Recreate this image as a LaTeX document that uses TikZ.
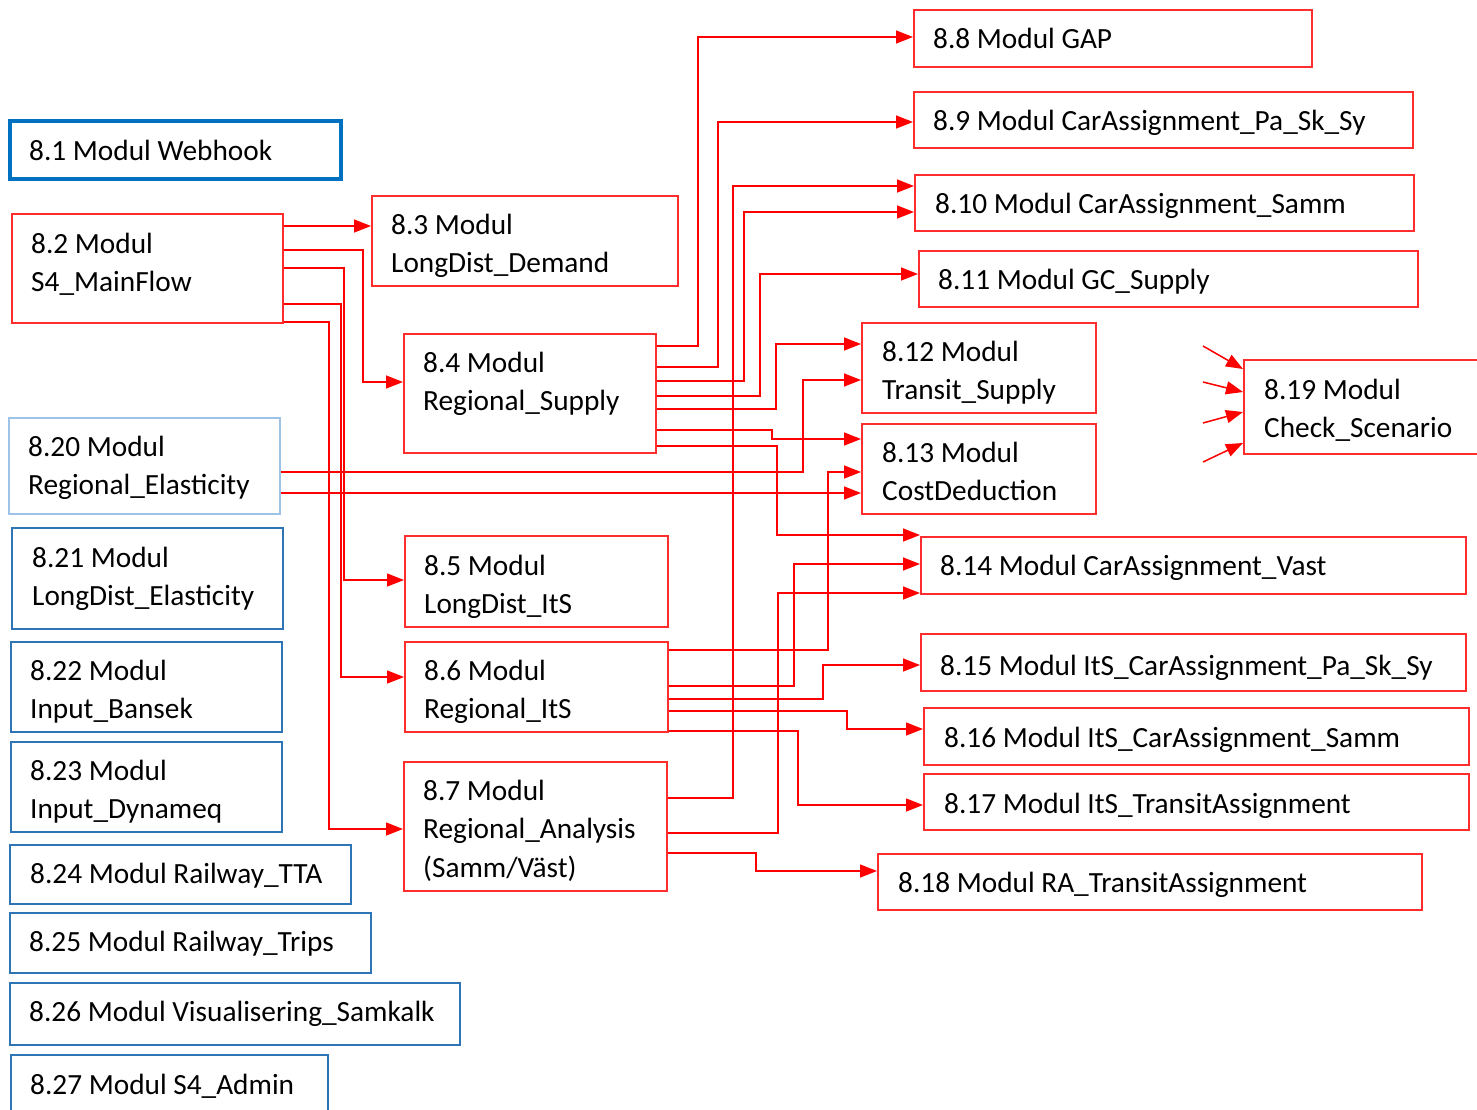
\documentclass[tikz,border=0pt]{standalone}
\usepackage{fontspec}
\setmainfont{Carlito}
\usetikzlibrary{arrows.meta}
\definecolor{lred}{RGB}{255,0,0}
\definecolor{bred}{RGB}{255,45,45}
\definecolor{dblue}{RGB}{0,112,192}
\definecolor{mblue}{RGB}{46,117,182}
\definecolor{lblue}{RGB}{157,195,230}
\begin{document}
\begin{tikzpicture}[x=1pt,y=-1pt,
 rbox/.style={draw=bred, line width=1.5pt, inner sep=0pt, anchor=north west},
 bbox/.style={draw=mblue, line width=1.5pt, inner sep=0pt, anchor=north west},
 txt/.style={anchor=base west, align=left, inner sep=0pt, font=\fontsize{29.3}{38.5}\selectfont},
 arr/.style={draw=lred, line width=1.5pt, -{Triangle[length=17pt,width=13pt]}}]
\useasboundingbox (0,0) rectangle (1477,1109);
% boxes
\node[bbox, draw=dblue, line width=3.5pt, minimum width=331pt, minimum height=58pt] (b81) at (8,119) {};
\node[rbox, minimum width=271pt, minimum height=109pt] (b82) at (11,213) {};
\node[rbox, minimum width=306pt, minimum height=90pt] (b83) at (371,195) {};
\node[rbox, minimum width=252pt, minimum height=119pt] (b84) at (403,333) {};
\node[rbox, minimum width=263pt, minimum height=91pt] (b85) at (404,535) {};
\node[rbox, minimum width=263pt, minimum height=90pt] (b86) at (404,641) {};
\node[rbox, minimum width=263pt, minimum height=129pt] (b87) at (403,761) {};
\node[rbox, minimum width=398pt, minimum height=57pt] (b88) at (913,9) {};
\node[rbox, minimum width=499pt, minimum height=56pt] (b89) at (913,91) {};
\node[rbox, minimum width=499pt, minimum height=56pt] (b810) at (914,174) {};
\node[rbox, minimum width=499pt, minimum height=56pt] (b811) at (918,250) {};
\node[rbox, minimum width=234pt, minimum height=90pt] (b812) at (861,322) {};
\node[rbox, minimum width=234pt, minimum height=90pt] (b813) at (861,423) {};
\node[rbox, minimum width=545pt, minimum height=57pt] (b814) at (920,536) {};
\node[rbox, minimum width=545pt, minimum height=57pt] (b815) at (920,633) {};
\node[rbox, minimum width=545pt, minimum height=57pt] (b816) at (923,707) {};
\node[rbox, minimum width=545pt, minimum height=56pt] (b817) at (923,773) {};
\node[rbox, minimum width=544pt, minimum height=56pt] (b818) at (877,853) {};
\node[rbox, minimum width=260pt, minimum height=94pt] (b819) at (1243,359) {};
\node[bbox, draw=lblue, minimum width=271pt, minimum height=96pt] (b820) at (8,417) {};
\node[bbox, minimum width=271pt, minimum height=101pt] (b821) at (11,527) {};
\node[bbox, minimum width=271pt, minimum height=90pt] (b822) at (10,641) {};
\node[bbox, minimum width=271pt, minimum height=90pt] (b823) at (10,741) {};
\node[bbox, minimum width=341pt, minimum height=59pt] (b824) at (9,844) {};
\node[bbox, minimum width=361pt, minimum height=60pt] (b825) at (9,912) {};
\node[bbox, minimum width=450pt, minimum height=62pt] (b826) at (9,982) {};
\node[bbox, minimum width=317pt, minimum height=80pt] (b827) at (10,1054) {};
% texts (base anchor = baseline of the last line)
\node[txt] (t81) at (29,160) {8.1 Modul Webhook};
\node[txt] (t82) at (31,291.5) {8.2 Modul\\S4\_MainFlow};
\node[txt] (t83) at (391,272.5) {8.3 Modul\\LongDist\_Demand};
\node[txt] (t84) at (423,410.5) {8.4 Modul\\Regional\_Supply};
\node[txt] (t85) at (424,613.5) {8.5 Modul\\LongDist\_ItS};
\node[txt] (t86) at (424,718.5) {8.6 Modul\\Regional\_ItS};
\node[txt] (t87) at (423,877) {8.7 Modul\\Regional\_Analysis\\(Samm/Väst)};
\node[txt] (t88) at (933,48) {8.8 Modul GAP};
\node[txt] (t89) at (933,130) {8.9 Modul CarAssignment\_Pa\_Sk\_Sy};
\node[txt] (t810) at (935,213) {8.10 Modul CarAssignment\_Samm};
\node[txt] (t811) at (938,289) {8.11 Modul GC\_Supply};
\node[txt] (t812) at (882,399.5) {8.12 Modul\\Transit\_Supply};
\node[txt] (t813) at (882,500.5) {8.13 Modul\\CostDeduction};
\node[txt] (t814) at (940,575) {8.14 Modul CarAssignment\_Vast};
\node[txt] (t815) at (940,675) {8.15 Modul ItS\_CarAssignment\_Pa\_Sk\_Sy};
\node[txt] (t816) at (944,747) {8.16 Modul ItS\_CarAssignment\_Samm};
\node[txt] (t817) at (944,813) {8.17 Modul ItS\_TransitAssignment};
\node[txt] (t818) at (898,892) {8.18 Modul RA\_TransitAssignment};
\node[txt] (t819) at (1264,437.5) {8.19 Modul\\Check\_Scenario};
\node[txt] (t820) at (28,494.5) {8.20 Modul\\Regional\_Elasticity};
\node[txt] (t821) at (32,605.5) {8.21 Modul\\LongDist\_Elasticity};
\node[txt] (t822) at (30,718.5) {8.22 Modul\\Input\_Bansek};
\node[txt] (t823) at (30,818.5) {8.23 Modul\\Input\_Dynameq};
\node[txt] (t824) at (30,883) {8.24 Modul Railway\_TTA};
\node[txt] (t825) at (29,951) {8.25 Modul Railway\_Trips};
\node[txt] (t826) at (29,1021) {8.26 Modul Visualisering\_Samkalk};
\node[txt] (t827) at (30,1094) {8.27 Modul S4\_Admin};
% connectors from 8.2
\draw[arr] (b82.east|-0,226) -- (b83.west|-0,226);
\draw[arr] (b82.east|-0,250) -| (363,382) -- (b84.west|-0,382);
\draw[arr] (b82.east|-0,268) -| (344,580) -- (b85.west|-0,580);
\draw[arr] (b82.east|-0,304) -| (341,677) -- (b86.west|-0,677);
\draw[arr] (b82.east|-0,322) -| (329,829) -- (b87.west|-0,829);
% from 8.4
\draw[arr] (b84.east|-0,346) -| (698,37) -- (b88.west|-0,37);
\draw[arr] (b84.east|-0,367) -| (718,122) -- (b89.west|-0,122);
\draw[arr] (b84.east|-0,381) -| (744,212) -- (b810.west|-0,212);
\draw[arr] (b84.east|-0,396) -| (760,274) -- (b811.west|-0,274);
\draw[arr] (b84.east|-0,409) -| (776,344) -- (b812.west|-0,344);
\draw[arr] (b84.east|-0,430) -| (772,439) -- (b813.west|-0,439);
\draw[arr] (b84.east|-0,446) -| (777,535) -- (b814.west|-0,535);
% from 8.20
\draw[arr] (b820.east|-0,472) -| (803,380) -- (b812.west|-0,380);
\draw[arr] (b820.east|-0,493) -- (b813.west|-0,493);
% from 8.6
\draw[arr] (b86.east|-0,650) -| (828,472) -- (b813.west|-0,472);
\draw[arr] (b86.east|-0,686) -| (794,564) -- (b814.west|-0,564);
\draw[arr] (b86.east|-0,699) -| (823,665) -- (b815.west|-0,665);
\draw[arr] (b86.east|-0,711) -| (847,729) -- (b816.west|-0,729);
\draw[arr] (b86.east|-0,731) -| (798,805) -- (b817.west|-0,805);
% from 8.7
\draw[arr] (b87.east|-0,798) -| (733,186) -- (b810.west|-0,186);
\draw[arr] (b87.east|-0,833) -| (778,593) -- (b814.west|-0,593);
\draw[arr] (b87.east|-0,853) -| (756,871) -- (b818.west|-0,871);
% into 8.19
\coordinate (f1) at (1203,346);
\coordinate (f2) at (1203,382);
\coordinate (f3) at (1203,423);
\coordinate (f4) at (1203,462);
\draw[arr] (f1) -- (b819.west|-0,369);
\draw[arr] (f2) -- (b819.west|-0,392);
\draw[arr] (f3) -- (b819.west|-0,412);
\draw[arr] (f4) -- (b819.west|-0,443);
\end{tikzpicture}
\end{document}
